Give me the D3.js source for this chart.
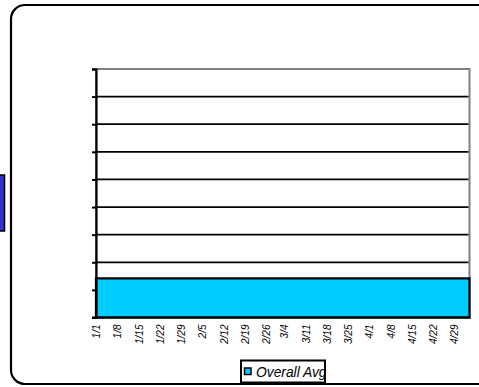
<!DOCTYPE html>
<html>
<head>
<meta charset="utf-8">
<script src="https://cdn.jsdelivr.net/npm/d3@7"></script>
<style>
  html, body { margin: 0; padding: 0; background: #fff; }
  svg { display: block; }
</style>
</head>
<body>
<svg id="chart" width="479" height="387"></svg>
<script>
// Week-start labels along the category axis
const weeks = ["1/1","1/8","1/15","1/22","1/29","2/5","2/12","2/19","2/26","3/4","3/11","3/18","3/25","4/1","4/8","4/15","4/22","4/29"];
// Overall average for each week
const overallAvg = [1.42,1.42,1.42,1.42,1.42,1.42,1.42,1.42,1.42,1.42,1.42,1.42,1.42,1.42,1.42,1.42,1.42,1.42];
// Last day covered by the series
const endLabel = "5/4";
// Value-axis ticks (unlabelled)
const yTicks = [0,1,2,3,4,5,6,7,8,9];
const seriesName = "Overall Avg";

const year = 2001;
const parse = s => { const [m, d] = s.split("/").map(Number); return new Date(year, m - 1, d); };

const svg = d3.select("#chart");
const plot = { left: 96, right: 469.5, top: 69, bottom: 317.5 };

// Outer rounded frame (runs off the right edge)
svg.append("rect")
  .attr("x", 11).attr("y", 5)
  .attr("width", 490).attr("height", 379)
  .attr("rx", 14).attr("ry", 14)
  .attr("fill", "#fff").attr("stroke", "#000").attr("stroke-width", 2.2);

// Partially visible blue block at the left edge
svg.append("rect")
  .attr("x", -10).attr("y", 175)
  .attr("width", 14.5).attr("height", 56)
  .attr("fill", "#3333cc").attr("stroke", "#000").attr("stroke-width", 1.5);

const x = d3.scaleTime()
  .domain([parse(weeks[0]), parse(endLabel)])
  .range([plot.left, plot.right]);
const y = d3.scaleLinear()
  .domain([d3.min(yTicks), d3.max(yTicks)])
  .range([plot.bottom, plot.top]);

// Plot-area border (grey)
svg.append("rect")
  .attr("x", plot.left).attr("y", plot.top)
  .attr("width", plot.right - plot.left).attr("height", plot.bottom - plot.top)
  .attr("fill", "#fff").attr("stroke", "#808080").attr("stroke-width", 2);

// Horizontal gridlines
svg.append("g")
  .selectAll("line")
  .data(yTicks.filter(t => t > 0 && t < d3.max(yTicks)))
  .join("line")
  .attr("x1", plot.left).attr("x2", plot.right - 1)
  .attr("y1", d => y(d)).attr("y2", d => y(d))
  .attr("stroke", "#000").attr("stroke-width", 1.8);

// Series as a stepped area spanning each week
const pts = weeks.map((w, i) => ({ date: parse(w), v: overallAvg[i] }));
pts.push({ date: parse(endLabel), v: overallAvg[overallAvg.length - 1] });
const area = d3.area()
  .curve(d3.curveStepAfter)
  .x(d => x(d.date))
  .y0(y(0))
  .y1(d => y(d.v));
svg.append("path")
  .datum(pts)
  .attr("d", area)
  .attr("fill", "#00ccff")
  .attr("stroke", "#000").attr("stroke-width", 2.2)
  .attr("stroke-linejoin", "miter");

// Value axis: line and tick marks, no labels
const yAxis = d3.axisLeft(y).tickValues(yTicks).tickSize(4).tickFormat("");
const yg = svg.append("g").attr("transform", `translate(${plot.left},0)`).call(yAxis);
yg.select(".domain").attr("stroke", "#000").attr("stroke-width", 2.2);
yg.selectAll(".tick line").attr("stroke", "#000").attr("stroke-width", 2);

// Category axis baseline
svg.append("line")
  .attr("x1", plot.left - 4).attr("x2", plot.right + 1)
  .attr("y1", y(0)).attr("y2", y(0))
  .attr("stroke", "#000").attr("stroke-width", 2.2);

// Week labels, rotated
const xAxis = d3.axisBottom(x)
  .tickValues(weeks.map(parse))
  .tickSize(0)
  .tickFormat(d => `${d.getMonth() + 1}/${d.getDate()}`);
const xg = svg.append("g").attr("transform", `translate(0,${y(0)})`).call(xAxis);
xg.select(".domain").remove();
xg.selectAll(".tick text")
  .attr("transform", "rotate(-90)")
  .attr("x", -7).attr("y", 0).attr("dy", "0.35em")
  .attr("text-anchor", "end")
  .attr("font-family", "Liberation Sans, Arial, sans-serif")
  .attr("font-style", "italic")
  .attr("font-size", 10)
  .attr("fill", "#000");

// Legend
const lg = svg.append("g");
svg.append("defs").append("clipPath").attr("id", "legend-clip")
  .append("rect").attr("x", 241).attr("y", 360.5).attr("width", 84).attr("height", 22);
lg.append("rect")
  .attr("x", 241).attr("y", 360.5).attr("width", 84).attr("height", 22)
  .attr("fill", "#fff");
lg.append("rect")
  .attr("x", 244.5).attr("y", 368).attr("width", 6.5).attr("height", 6.5)
  .attr("fill", "#00ccff").attr("stroke", "#000").attr("stroke-width", 1.5);
lg.append("text")
  .attr("x", 256).attr("y", 377)
  .attr("clip-path", "url(#legend-clip)")
  .attr("font-family", "Liberation Sans, Arial, sans-serif")
  .attr("font-style", "italic")
  .attr("font-size", 13.8)
  .attr("fill", "#000")
  .text(seriesName);
lg.append("rect")
  .attr("x", 241).attr("y", 360.5).attr("width", 84).attr("height", 22)
  .attr("fill", "none").attr("stroke", "#000").attr("stroke-width", 2);
</script>
</body>
</html>
